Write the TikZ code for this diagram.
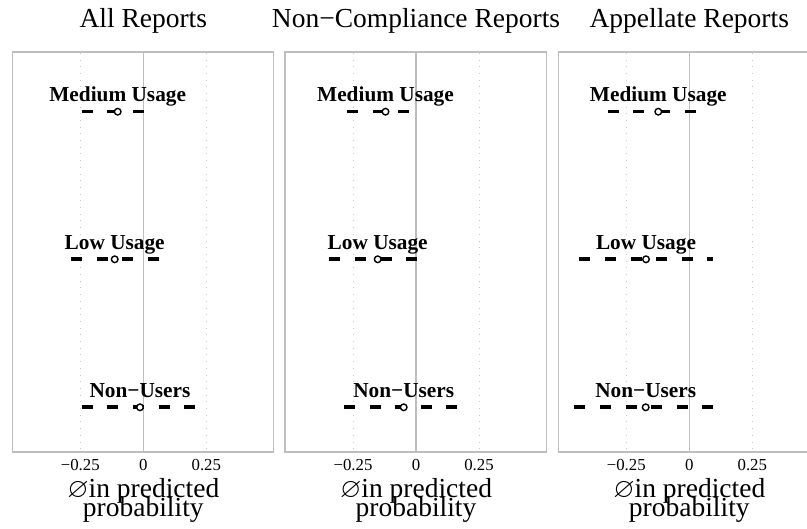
\documentclass[tikz,border=0pt]{standalone}
\usepackage{amssymb}
\usepackage{fontspec}
\setmainfont{Liberation Serif}
\definecolor{gridgray}{HTML}{BEBEBE}
\definecolor{dotgray}{HTML}{C8C8C8}
\begin{document}
\begin{tikzpicture}[x=1pt,y=-1pt,
  frame/.style={draw=gridgray,line width=1.5pt},
  zeroline/.style={draw=gridgray,line width=1.5pt},
  minorline/.style={draw=dotgray,line width=0.8pt,dash pattern=on 0.9pt off 5.8pt},
  ci/.style={draw=black,line width=3.6pt,dash pattern=on 11pt off 14.6pt},
  est/.style={circle,draw=black,fill=white,line width=1.4pt,minimum size=6.6pt,inner sep=0pt},
  rowlabel/.style={font=\fontsize{21.3}{24}\selectfont\bfseries,anchor=base,inner sep=0pt},
  paneltitle/.style={font=\fontsize{27.5}{30}\selectfont,anchor=base,inner sep=0pt},
  ticklabel/.style={font=\fontsize{16.8}{19}\selectfont,anchor=base,inner sep=0pt},
  axistitle/.style={font=\fontsize{27.5}{30}\selectfont,anchor=base,inner sep=0pt}]
\useasboundingbox (0,0) rectangle (807,529);
\clip (0,0) rectangle (807,529);

% panels: name / zero x / title
\foreach \k/\z/\t in {1/143.3/All Reports,2/416/Non−Compliance Reports,3/689.3/Appellate Reports}{
  \draw[frame] (\z-130.8,52) rectangle (\z+130.3,452);
  \draw[minorline] (\z-63,53) -- (\z-63,451);
  \draw[minorline] (\z+63,53) -- (\z+63,451);
  \draw[zeroline] (\z,53) -- (\z,451);
  \node[paneltitle] (title\k) at (\z,27.3) {\t};
  \node[ticklabel] (tm\k) at (\z-63,471) {−0.25};
  \node[ticklabel] (tz\k) at (\z,471) {0};
  \node[ticklabel] (tp\k) at (\z+63,471) {0.25};
  \node[axistitle] (ax\k) at (\z,497.7) {$\varnothing$in predicted};
  \node[axistitle] (bx\k) at (\z,516.3) {probability};
}

% rows: panel / row / lo / hi / estimate / y / label
\foreach \k/\r/\lo/\hi/\e/\y/\l in {
  1/m/81.7/144/117.7/111.7/Medium Usage,
  1/l/71/160/114.7/259.3/Low Usage,
  1/n/81.7/196/140/407.3/Non−Users,
  2/m/347/410/385.5/111.7/Medium Usage,
  2/l/329.3/417.7/377.7/259.3/Low Usage,
  2/n/344/458.7/403.7/407.3/Non−Users,
  3/m/607.7/696/658.3/111.7/Medium Usage,
  3/l/579.3/713.3/646/259.3/Low Usage,
  3/n/574.3/714.3/645.7/407.3/Non−Users}{
  \node[rowlabel] (lab\k\r) at (\e,\y-10) {\l};
  \coordinate (lo\k\r) at (\lo,\y);
  \coordinate (hi\k\r) at (\hi,\y);
  \draw[ci] (lo\k\r) -- (hi\k\r);
  \node[est] (pt\k\r) at (\e,\y) {};
}
\end{tikzpicture}
\end{document}
